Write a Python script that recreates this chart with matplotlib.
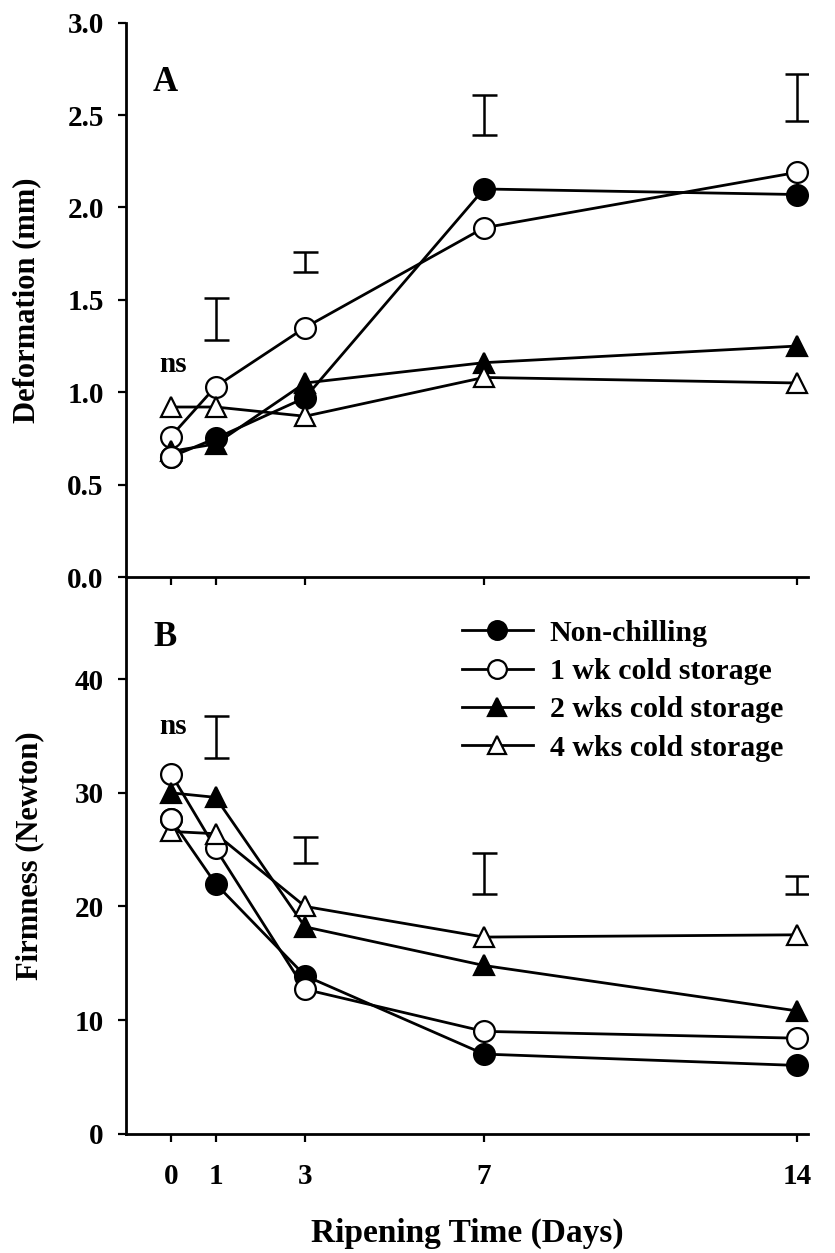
import numpy as np
import matplotlib
matplotlib.use('Agg')
import matplotlib.pyplot as plt

plt.rcParams['font.family'] = ['Liberation Serif', 'DejaVu Serif']
plt.rcParams['font.weight'] = 'bold'

days = [0, 1, 3, 7, 14]
labels = ['Non-chilling', '1 wk cold storage', '2 wks cold storage', '4 wks cold storage']

# panel A: deformation (mm)
deform_nonchill = [0.65, 0.75, 0.97, 2.10, 2.07]
deform_1wk = [0.76, 1.03, 1.35, 1.89, 2.19]
deform_2wk = [0.68, 0.72, 1.05, 1.16, 1.25]
deform_4wk = [0.92, 0.92, 0.87, 1.08, 1.05]
# LSD bars (low, high) at days 1, 3, 7, 14
deform_bar_days = [1, 3, 7, 14]
deform_bar_low = [1.28, 1.65, 2.39, 2.47]
deform_bar_high = [1.51, 1.76, 2.61, 2.72]

# panel B: firmness (N)
firm_nonchill = [27.7, 22.0, 13.9, 7.0, 6.0]
firm_1wk = [31.7, 25.1, 12.7, 9.0, 8.4]
firm_2wk = [30.0, 29.6, 18.2, 14.8, 10.8]
firm_4wk = [26.6, 26.4, 20.0, 17.3, 17.5]
firm_bar_days = [1, 3, 7, 14]
firm_bar_low = [33.1, 23.8, 21.1, 21.1]
firm_bar_high = [36.8, 26.1, 24.7, 22.7]

styles = [('o', 'black'), ('o', 'white'), ('^', 'black'), ('^', 'white')]
lw = 2.0
ms = 15
mew = 1.6
tick_fs = 21


def draw_panel(ax, series, bar_days, bar_low, bar_high):
    handles = []
    for vals, (mk, fc), lab in zip(series, styles, labels):
        h, = ax.plot(days, vals, color='black', lw=lw, marker=mk, ms=ms,
                     mfc=fc, mec='black', mew=mew, label=lab, clip_on=False)
        handles.append(h)
    # day-0 non-chilling point appears open in the original
    ax.plot(days[0], series[0][0], marker='o', ms=ms, mfc='white', mec='black',
            mew=mew, ls='none', zorder=2.05)
    low = np.array(bar_low)
    high = np.array(bar_high)
    mid = (low + high) / 2
    ax.errorbar(bar_days, mid, yerr=(high - low) / 2, fmt='none', ecolor='black',
                elinewidth=1.8, capsize=9, capthick=1.8)
    ax.patch.set_visible(False)
    ax.spines['top'].set_visible(False)
    ax.spines['right'].set_visible(False)
    for s in ['left', 'bottom']:
        ax.spines[s].set_linewidth(2.0)
    ax.set_xlim(-1.0, 14.25)
    ax.set_xticks(days)
    ax.tick_params(direction='out', length=6, width=1.6, labelsize=tick_fs, pad=10)
    return handles


fig = plt.figure(figsize=(8.35, 12.53), dpi=100)
ax2 = fig.add_axes([0.151, 0.0953, 0.817, 0.4442])
ax1 = fig.add_axes([0.151, 0.5395, 0.817, 0.4424])

draw_panel(ax1, [deform_nonchill, deform_1wk, deform_2wk, deform_4wk],
           deform_bar_days, deform_bar_low, deform_bar_high)
ax1.set_ylim(0, 3.0)
ax1.set_yticks([0, 0.5, 1.0, 1.5, 2.0, 2.5, 3.0])
ax1.set_yticklabels(['0.0', '0.5', '1.0', '1.5', '2.0', '2.5', '3.0'])
ax1.tick_params(axis='x', labelbottom=False)
ax1.set_ylabel('Deformation (mm)', fontsize=22, fontweight='bold')
ax1.yaxis.set_label_coords(-0.125, 0.5)
ax1.text(0.057, 0.892, 'A', transform=ax1.transAxes, fontsize=25,
         fontweight='bold', ha='center', va='center')
ax1.text(0.05, 1.15, 'ns', fontsize=21, fontweight='bold', ha='center', va='center')

handles = draw_panel(ax2, [firm_nonchill, firm_1wk, firm_2wk, firm_4wk],
                     firm_bar_days, firm_bar_low, firm_bar_high)
ax2.set_ylim(0, 49)
ax2.set_yticks([0, 10, 20, 30, 40])
ax2.tick_params(axis='x', pad=15)
ax2.set_ylabel('Firmness (Newton)', fontsize=22, fontweight='bold')
ax2.yaxis.set_label_coords(-0.12, 0.5)
ax2.set_xlabel('Ripening Time (Days)', fontsize=24, fontweight='bold', labelpad=20)
ax2.text(0.057, 0.892, 'B', transform=ax2.transAxes, fontsize=25,
         fontweight='bold', ha='center', va='center')
ax2.text(0.05, 35.8, 'ns', fontsize=21, fontweight='bold', ha='center', va='center')

ax2.legend(handles=handles, loc='upper left', bbox_to_anchor=(0.47, 0.95),
           frameon=False, numpoints=1, handlelength=2.4, handletextpad=0.55,
           labelspacing=0.38, borderpad=0, markerscale=0.9,
           prop={'size': 21.5, 'weight': 'bold'})

fig.savefig('out.png', dpi=100)
